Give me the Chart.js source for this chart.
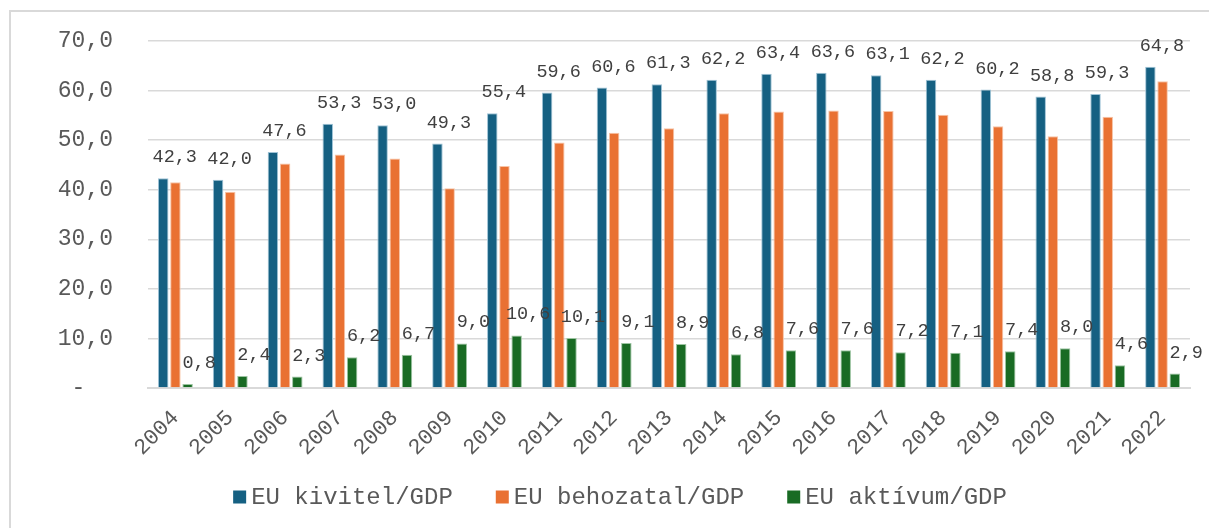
<!DOCTYPE html>
<html>
<head>
<meta charset="utf-8">
<script src="https://cdn.jsdelivr.net/npm/chart.js@4/dist/chart.umd.min.js"></script>
<style>
  html, body { margin: 0; padding: 0; background: #fff; }
  #wrap { width: 1209px; height: 528px; }
</style>
</head>
<body>
<div id="wrap"><canvas id="chart" width="1209" height="528"></canvas></div>
<script>
// EU foreign trade as share of GDP (%)
const years = ['2004','2005','2006','2007','2008','2009','2010','2011','2012','2013','2014','2015','2016','2017','2018','2019','2020','2021','2022']
const exportGdp = [42.3, 42.0, 47.6, 53.3, 53.0, 49.3, 55.4, 59.6, 60.6, 61.3, 62.2, 63.4, 63.6, 63.1, 62.2, 60.2, 58.8, 59.3, 64.8]
const importGdp = [41.5, 39.6, 45.3, 47.1, 46.3, 40.3, 44.8, 49.5, 51.5, 52.4, 55.4, 55.8, 56.0, 55.9, 55.1, 52.8, 50.8, 54.7, 61.9]
const surplusGdp = [0.8, 2.4, 2.3, 6.2, 6.7, 9.0, 10.6, 10.1, 9.1, 8.9, 6.8, 7.6, 7.6, 7.2, 7.1, 7.4, 8.0, 4.6, 2.9]
const seriesNames = ['EU kivitel/GDP', 'EU behozatal/GDP', 'EU aktívum/GDP']
const colors = ['#156082', '#E97132', '#196B24']
const edges = ['#9fc3d6', '#f7c3a5', '#9cc4a1']

const FONT = "'Liberation Mono', 'DejaVu Sans Mono', monospace"
const fmt = v => v.toFixed(1).replace('.', ',')

// light frame round the chart, like the spreadsheet export
const framePlugin = {
  id: 'frame',
  beforeDraw(chart) {
    const ctx = chart.ctx
    ctx.save()
    ctx.strokeStyle = '#d9d9d9'
    ctx.lineWidth = 2
    ctx.strokeRect(10, 11, 1300, 600)
    ctx.restore()
  }
}

// value labels above export and surplus bars
const labelPlugin = {
  id: 'valueLabels',
  afterDatasetsDraw(chart) {
    const ctx = chart.ctx
    ctx.save()
    ctx.font = '18.5px ' + FONT
    ctx.fillStyle = '#404040'
    ctx.textAlign = 'center'
    ctx.textBaseline = 'alphabetic'
    ;[0, 2].forEach(di => {
      const meta = chart.getDatasetMeta(di)
      meta.data.forEach((el, i) => {
        ctx.fillText(fmt(chart.data.datasets[di].data[i]), el.x + 11.5, el.y - 16)
      })
    })
    ctx.restore()
  }
}

// legend drawn by hand so spacing matches the reference
const legendPlugin = {
  id: 'manualLegend',
  afterDraw(chart) {
    const ctx = chart.ctx
    ctx.save()
    ctx.font = '24px ' + FONT
    ctx.textBaseline = 'middle'
    ctx.textAlign = 'left'
    const box = 13, gapText = 5, gapItem = 43, cy = 497
    const widths = seriesNames.map(n => ctx.measureText(n).width)
    const total = widths.reduce((s, w) => s + w + box + gapText, 0) + gapItem * (seriesNames.length - 1)
    let x = 620 - total / 2
    seriesNames.forEach((n, i) => {
      ctx.fillStyle = colors[i]
      ctx.fillRect(x, cy - box / 2, box, box)
      x += box + gapText
      ctx.fillStyle = '#595959'
      ctx.fillText(n, x, cy + 1)
      x += widths[i] + gapItem
    })
    ctx.restore()
  }
}

const datasets = [exportGdp, importGdp, surplusGdp].map((d, i) => ({
  label: seriesNames[i],
  data: d,
  backgroundColor: colors[i],
  borderColor: edges[i],
  borderWidth: 1,
  categoryPercentage: 0.667,
  barPercentage: 0.86
}))

new Chart(document.getElementById('chart'), {
  type: 'bar',
  data: { labels: years, datasets },
  options: {
    responsive: false,
    animation: false,
    layout: { padding: { top: 41, right: 19, bottom: 60, left: 0 } },
    plugins: { legend: { display: false }, tooltip: { enabled: false } },
    scales: {
      x: {
        grid: { display: false },
        border: { color: '#d9d9d9', width: 2 },
        ticks: {
          color: '#595959',
          font: { family: FONT, size: 22 },
          minRotation: 45, maxRotation: 45,
          padding: 9
        },
        afterFit(s) { s.height = 80 }
      },
      y: {
        min: 0, max: 70,
        ticks: {
          stepSize: 10,
          color: '#595959',
          font: { family: FONT, size: 23 },
          padding: 35,
          callback: v => v === 0 ? '-  ' : fmt(v)
        },
        grid: { color: '#d9d9d9', lineWidth: 1.5, drawTicks: false },
        border: { display: false },
        // tick padding would otherwise push the plot top down
        afterFit(s) { s.width = 148; s.paddingTop = 14; s.paddingBottom = 14 }
      }
    }
  },
  plugins: [framePlugin, labelPlugin, legendPlugin]
})
</script>
</body>
</html>
